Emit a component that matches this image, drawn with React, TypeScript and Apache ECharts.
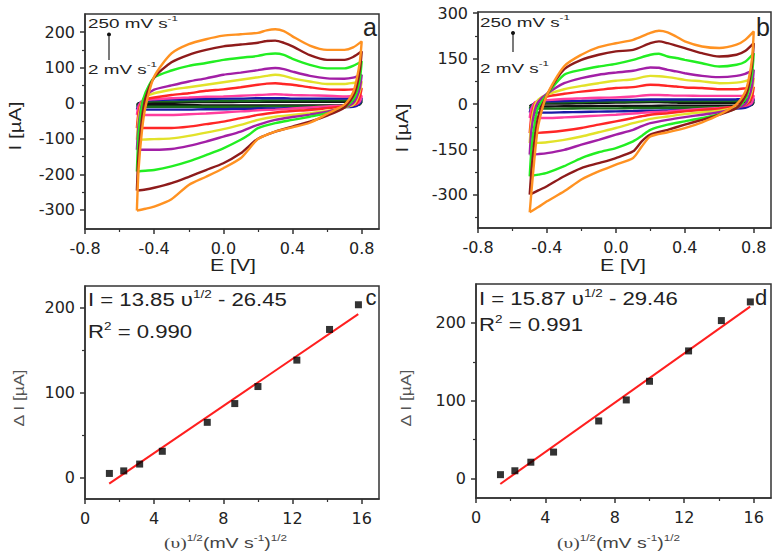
import React, { useEffect, useRef } from "react";
import * as echarts from "echarts";

// ---------- DATA ----------
const scanRates = [2, 5, 10, 20, 50, 75, 100, 150, 200, 250]; // mV s-1
const curveColors = ["#111111", "#1c6e1c", "#1a1aa8", "#ff3d9e", "#ff2626", "#e2e22a", "#a21fa6", "#22ee22", "#8e1b1b", "#ff9222"];

// potential grid (V) for the forward (anodic) and reverse (cathodic) sweeps
const eAnodic = [-0.5, -0.49, -0.47, -0.45, -0.4, -0.3, -0.2, -0.1, 0, 0.1, 0.2, 0.25, 0.3, 0.35, 0.4, 0.5, 0.6, 0.7, 0.75, 0.8];
const eCathodic = [0.8, 0.79, 0.77, 0.75, 0.7, 0.6, 0.5, 0.4, 0.3, 0.2, 0.15, 0.1, 0, -0.1, -0.2, -0.3, -0.4, -0.45, -0.5];

// panel a currents (µA), one row per scan rate
const aAnodic = [
  [-5, 0, 1, 2, 2, 2, 3, 3, 3, 4, 4, 4, 4, 4, 4, 4, 4, 4, 5, 5],
  [-10, -2, 3, 4, 5, 5, 6, 6, 7, 7, 7, 8, 8, 8, 8, 8, 8, 8, 9, 10],
  [-18, -5, 6, 8, 9, 10, 11, 12, 13, 13, 14, 14, 14, 14, 13, 13, 13, 13, 14, 15],
  [-33, -8, 6, 9, 11, 14, 16, 18, 19, 21, 23, 24, 25, 24, 23, 22, 21, 19, 20, 21],
  [-70, -25, 5, 11, 16, 23, 28, 35, 39, 45, 52, 55, 56, 54, 52, 45, 39, 38, 39, 42],
  [-103, -40, 5, 18, 28, 38, 45, 52, 59, 66, 73, 77, 80, 77, 70, 61, 54, 54, 57, 61],
  [-131, -60, 0, 20, 38, 50, 61, 70, 80, 86, 93, 97, 99, 96, 89, 77, 70, 69, 72, 80],
  [-192, -85, -5, 30, 72, 92, 105, 113, 122, 128, 133, 138, 140, 136, 125, 108, 98, 98, 105, 118],
  [-246, -140, -40, 15, 72, 115, 136, 150, 160, 165, 170, 175, 176, 170, 160, 135, 122, 122, 130, 146],
  [-302, -185, -75, -10, 75, 140, 166, 180, 190, 194, 198, 205, 208, 203, 188, 162, 150, 150, 157, 174],
];
const aCathodic = [
  [5, -3, -5, -6, -6, -6, -6, -6, -6, -6, -6, -6, -6, -6, -5, -5, -5, -5, -5],
  [10, -2, -6, -7, -8, -8, -9, -9, -9, -10, -10, -10, -10, -10, -10, -10, -10, -10, -10],
  [15, 0, -8, -10, -11, -12, -13, -14, -15, -15, -16, -16, -17, -17, -18, -18, -18, -18, -18],
  [21, 5, -3, -5, -7, -9, -12, -15, -18, -20, -22, -23, -26, -29, -31, -33, -33, -33, -33],
  [42, 20, 0, -5, -9, -14, -19, -22, -26, -33, -38, -42, -52, -59, -66, -70, -70, -70, -70],
  [61, 35, 8, -5, -12, -22, -28, -33, -38, -47, -54, -61, -73, -83, -92, -99, -101, -102, -103],
  [80, 45, 15, 0, -12, -24, -32, -39, -47, -61, -70, -80, -94, -108, -120, -129, -131, -131, -131],
  [118, 70, 30, 10, -12, -28, -38, -47, -56, -70, -88, -103, -127, -146, -164, -178, -188, -190, -192],
  [146, 95, 45, 20, -12, -35, -52, -66, -80, -100, -120, -141, -169, -188, -207, -225, -238, -243, -246],
  [174, 120, 65, 30, -4, -30, -55, -68, -80, -101, -128, -155, -183, -207, -230, -270, -291, -297, -302],
];

// panel b currents (µA)
const bAnodic = [
  [-8, -3, 0, 1, 2, 2, 3, 4, 5, 6, 7, 7, 6, 5, 4, 4, 4, 4, 5, 6],
  [-15, -5, 2, 4, 5, 6, 7, 8, 8, 9, 10, 10, 10, 10, 10, 10, 10, 10, 11, 12],
  [-28, -10, 5, 8, 9, 10, 11, 12, 13, 14, 15, 15, 15, 15, 15, 15, 15, 16, 17, 18],
  [-46, -15, 6, 10, 13, 17, 19, 21, 22, 25, 30, 30, 29, 28, 28, 27, 27, 27, 27, 28],
  [-96, -40, 0, 12, 25, 34, 41, 47, 53, 56, 64, 63, 60, 58, 55, 53, 49, 49, 52, 56],
  [-129, -60, -5, 15, 31, 49, 60, 69, 77, 82, 93, 92, 89, 85, 80, 75, 69, 71, 76, 86],
  [-167, -85, -20, 8, 34, 69, 86, 97, 104, 110, 121, 120, 113, 108, 102, 93, 89, 93, 100, 113],
  [-238, -150, -60, -10, 32, 97, 113, 124, 133, 146, 163, 166, 157, 152, 146, 135, 124, 130, 140, 168],
  [-299, -220, -110, -40, 30, 115, 146, 163, 174, 179, 201, 207, 201, 193, 185, 168, 157, 163, 175, 201],
  [-357, -290, -165, -70, 30, 125, 163, 188, 201, 212, 235, 242, 237, 223, 207, 190, 185, 196, 212, 240],
];
const bCathodic = [
  [6, -2, -4, -5, -5, -5, -5, -5, -5, -6, -6, -6, -6, -6, -7, -7, -8, -8, -8],
  [12, 0, -6, -8, -9, -10, -11, -12, -12, -13, -13, -13, -14, -14, -14, -15, -15, -15, -15],
  [18, 2, -8, -12, -15, -18, -19, -20, -21, -22, -22, -23, -24, -25, -26, -27, -28, -28, -28],
  [28, 5, -3, -6, -9, -13, -16, -20, -24, -27, -29, -31, -35, -38, -41, -44, -46, -46, -46],
  [56, 25, 5, -3, -8, -15, -19, -24, -30, -35, -40, -46, -57, -68, -79, -87, -93, -95, -96],
  [86, 45, 12, 0, -10, -22, -27, -33, -41, -49, -56, -63, -79, -93, -107, -118, -126, -128, -129],
  [113, 60, 20, 0, -13, -27, -35, -43, -52, -63, -73, -85, -101, -118, -134, -151, -162, -165, -167],
  [168, 100, 45, 15, -13, -33, -46, -57, -68, -85, -105, -123, -145, -159, -178, -205, -227, -233, -238],
  [201, 130, 60, 25, -13, -35, -52, -68, -85, -101, -123, -156, -178, -195, -211, -238, -271, -285, -299],
  [240, 150, 80, 40, 0, -35, -60, -79, -93, -107, -140, -178, -200, -222, -249, -288, -321, -340, -357],
];

// panels c and d: peak current vs square root of scan rate
const sqrtRate = [1.41, 2.24, 3.16, 4.47, 7.07, 8.66, 10.0, 12.25, 14.14, 15.81];
const deltaC = [5, 8, 16, 31, 65, 87, 107, 138, 174, 203];
const deltaD = [5, 10, 21, 34, 74, 101, 125, 164, 203, 227];
const fitX = [1.4, 15.8];
const fitC = [-7, 192];
const fitD = [-7, 221];

// tick values
const eTicks = [-0.8, -0.4, 0, 0.4, 0.8];
const eMinor = [-0.6, -0.2, 0.2, 0.6];
const aYTicks = [-300, -200, -100, 0, 100, 200];
const aYMinor = [-250, -150, -50, 50, 150];
const bYTicks = [-300, -150, 0, 150, 300];
const bYMinor = [-375, -225, -75, 75, 225];
const rTicks = [0, 4, 8, 12, 16];
const rMinor = [2, 6, 10, 14];
const dIYTicks = [0, 100, 200];
const dIYMinor = [50, 150];

// ---------- STYLE HELPERS ----------
const AX = "#333";
const TICK_FONT = "DejaVu Sans";
const SANS = "Liberation Sans";
const SERIF = "Liberation Serif";

function axisPair(kind: "x" | "y", grid: number, min: number, max: number, majors: number[], minors: number[], fmt: (v: number) => string) {
  const pos = kind === "x" ? "bottom" : "left";
  const main: any = {
    type: "value", gridIndex: grid, min, max, position: pos,
    axisLine: { show: true, onZero: false, lineStyle: { color: AX, width: 1.5 } },
    axisTick: { show: true, length: 5, customValues: majors, lineStyle: { color: AX, width: 1.5 } },
    axisLabel: { show: true, customValues: majors, formatter: fmt, fontFamily: TICK_FONT, fontSize: 16, color: "#222", margin: kind === "x" ? 11 : 10 },
    splitLine: { show: false },
  };
  const minor: any = {
    type: "value", gridIndex: grid, min, max, position: pos,
    axisLine: { show: false, onZero: false },
    axisTick: { show: true, length: 3, customValues: minors, lineStyle: { color: AX, width: 1.2 } },
    axisLabel: { show: false },
    splitLine: { show: false },
  };
  return [main, minor];
}

const f1 = (v: number) => v.toFixed(1);
const f0 = (v: number) => String(Math.round(v));

function cvSeries(panel: number, anod: number[][], cath: number[][]) {
  return scanRates.map((rate, i) => ({
    type: "line",
    name: `${rate} mV/s`,
    xAxisIndex: panel * 2,
    yAxisIndex: panel * 2,
    symbol: "none",
    smooth: 0.25,
    z: 2 + i,
    lineStyle: { color: curveColors[i], width: 2.4 },
    data: eAnodic.map((e, k) => [e, anod[i][k]]).concat(eCathodic.map((e, k) => [e, cath[i][k]])),
  }));
}

function fitSeries(panel: number, ys: number[], fit: number[]) {
  return [
    {
      type: "line", xAxisIndex: panel * 2, yAxisIndex: panel * 2, symbol: "none", z: 3,
      lineStyle: { color: "#ff1f1f", width: 2 },
      data: fitX.map((x, i) => [x, fit[i]]),
    },
    {
      type: "scatter", xAxisIndex: panel * 2, yAxisIndex: panel * 2, symbol: "rect", symbolSize: 7, z: 4,
      itemStyle: { color: "#000" },
      data: sqrtRate.map((x, i) => [x, ys[i]]),
    },
  ];
}

function supText(x: number, y: number, text: string, size: number, scaleX: number, fill = "#222", family = SANS): any {
  return {
    type: "text", x, y, scaleX,
    style: {
      text, fill, align: "left", verticalAlign: "middle",
      rich: {
        n: { fontSize: size, fontFamily: family, lineHeight: size + 4, fill },
        p: { fontSize: size, fontFamily: SERIF, lineHeight: size + 4, fill },
        s: { fontSize: Math.round(size * 0.62), fontFamily: family, verticalAlign: "top", lineHeight: Math.round(size * 0.62) + 1, fill },
      },
    },
  };
}

function plainText(x: number, y: number, text: string, size: number, opts: any = {}): any {
  return {
    type: "text", x, y, rotation: opts.rotation || 0, scaleX: opts.scaleX || 1,
    style: { text, fill: opts.fill || "#222", fontSize: size, fontFamily: opts.family || SANS, align: "center", verticalAlign: "middle" },
  };
}

function arrow(x: number, yTop: number, yBottom: number): any[] {
  return [
    { type: "line", shape: { x1: x, y1: yBottom, x2: x, y2: yTop + 2 }, style: { stroke: "#222", lineWidth: 1.2 } },
    { type: "circle", shape: { cx: x, cy: yTop, r: 2 }, style: { fill: "#111" } },
  ];
}

export default function App() {
  const ref = useRef<HTMLDivElement>(null);
  useEffect(() => {
    document.body.style.margin = "0";
    if (!ref.current) return;
    const chart = echarts.init(ref.current, undefined, { renderer: "svg" });
    const gridStyle = { show: true, borderColor: AX, borderWidth: 1.5, backgroundColor: "transparent" };
    const [ax0, ax0m] = axisPair("x", 0, -0.8, 0.9, eTicks, eMinor, f1);
    const [ay0, ay0m] = axisPair("y", 0, -354, 251, aYTicks, aYMinor, f0);
    const [ax1, ax1m] = axisPair("x", 1, -0.8, 0.9, eTicks, eMinor, f1);
    const [ay1, ay1m] = axisPair("y", 1, -409, 304, bYTicks, bYMinor, f0);
    const [ax2, ax2m] = axisPair("x", 2, 0, 17, rTicks, rMinor, f0);
    const [ay2, ay2m] = axisPair("y", 2, -25, 225, dIYTicks, dIYMinor, f0);
    const [ax3, ax3m] = axisPair("x", 3, 0, 17, rTicks, rMinor, f0);
    const [ay3, ay3m] = axisPair("y", 3, -25, 250, dIYTicks, dIYMinor, f0);

    const graphicEls: any[] = [
      // panel a annotations
      supText(88, 23, "{n|250 mV s}{s|-1}", 13, 1.45),
      supText(88, 69, "{n|2 mV s}{s|-1}", 13, 1.45),
      ...arrow(109, 34.5, 60),
      plainText(370, 27, "a", 25),
      plainText(233, 265, "E [V]", 17, { scaleX: 1.25 }),
      plainText(15, 126, "I [µA]", 17, { rotation: Math.PI / 2, scaleX: 1.22 }),
      // panel b annotations
      supText(480, 22, "{n|250 mV s}{s|-1}", 13, 1.45),
      supText(480, 68, "{n|2 mV s}{s|-1}", 13, 1.45),
      ...arrow(513, 33, 52),
      plainText(763, 27, "b", 25),
      plainText(623, 265, "E [V]", 17, { scaleX: 1.25 }),
      plainText(402, 128, "I [µA]", 17, { rotation: Math.PI / 2, scaleX: 1.22 }),
      // panel c annotations
      supText(88, 300, "{n|I = 13.85 υ}{s|1/2}{n| - 26.45}", 18, 1.23),
      supText(88, 332, "{n|R}{s|2}{n| = 0.990}", 18, 1.23),
      plainText(371, 297, "c", 22),
      plainText(18, 398, "Δ I [µA]", 15, { rotation: Math.PI / 2, scaleX: 1.17, fill: "#555" }),
      supText(164, 543, "{p|(υ)}{s|1/2}{n|(mV s}{s|-1}{n|)}{s|1/2}", 15, 1.3, "#444"),
      // panel d annotations
      supText(479, 299, "{n|I = 15.87 υ}{s|1/2}{n| - 29.46}", 18, 1.23),
      supText(479, 325, "{n|R}{s|2}{n| = 0.991}", 18, 1.23),
      plainText(761, 297, "d", 22),
      plainText(405, 398, "Δ I [µA]", 15, { rotation: Math.PI / 2, scaleX: 1.17, fill: "#555" }),
      supText(557, 543, "{p|(υ)}{s|1/2}{n|(mV s}{s|-1}{n|)}{s|1/2}", 15, 1.3, "#444"),
    ];

    chart.setOption({
      animation: false,
      backgroundColor: "#fff",
      grid: [
        { left: 85, top: 14, width: 294, height: 215, ...gridStyle },
        { left: 478, top: 12, width: 293, height: 216, ...gridStyle },
        { left: 85, top: 286, width: 294, height: 213, ...gridStyle },
        { left: 476, top: 284, width: 295, height: 214, ...gridStyle },
      ],
      xAxis: [ax0, ax0m, ax1, ax1m, ax2, ax2m, ax3, ax3m],
      yAxis: [ay0, ay0m, ay1, ay1m, ay2, ay2m, ay3, ay3m],
      series: [
        ...cvSeries(0, aAnodic, aCathodic),
        ...cvSeries(1, bAnodic, bCathodic),
        ...fitSeries(2, deltaC, fitC),
        ...fitSeries(3, deltaD, fitD),
      ],
      graphic: { elements: graphicEls },
    });
    return () => chart.dispose();
  }, []);
  return <div ref={ref} style={{ width: 783, height: 560 }} />;
}
